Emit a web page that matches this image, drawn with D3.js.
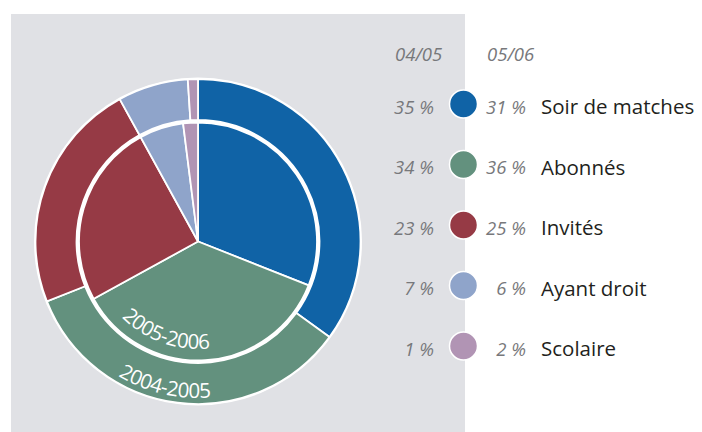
<!DOCTYPE html>
<html>
<head>
<meta charset="utf-8">
<script src="https://cdn.jsdelivr.net/npm/d3@7"></script>
<style>
  html, body { margin: 0; padding: 0; background: #ffffff; }
  svg { display: block; }
</style>
</head>
<body>
<svg id="chart" width="702" height="432"></svg>
<script>
// ---- data ----
const categories = ["Soir de matches", "Abonnés", "Invités", "Ayant droit", "Scolaire"];
const values0405 = [35, 34, 23, 7, 1];   // outer ring (2004-2005)
const values0506 = [31, 36, 25, 6, 2];   // inner pie (2005-2006)
const seasonHeaders = ["04/05", "05/06"];
const ringLabels = ["2005-2006", "2004-2005"];
const colors = ["#1063a6", "#63917e", "#963a45", "#8fa4ca", "#b194b4"];

// ---- layout ----
const W = 702, H = 432;
const cx = 198, cy = 241.5;
const rInner = 119, rRingIn = 121.5, rOuter = 162.5;

const svg = d3.select("#chart");

// gray panel
svg.append("rect").attr("x", 11).attr("y", 14).attr("width", 454).attr("height", H - 14)
  .attr("fill", "#e0e1e5");

const g = svg.append("g").attr("transform", `translate(${cx},${cy})`);

// white base disk (gives white outline & gap ring)
g.append("circle").attr("r", rOuter + 1.5).attr("fill", "#ffffff");

const pie = d3.pie().sort(null).value(d => d);
const color = d3.scaleOrdinal().domain(categories).range(colors);

const outerArc = d3.arc().innerRadius(rRingIn).outerRadius(rOuter);
const innerArc = d3.arc().innerRadius(0).outerRadius(rInner);

g.selectAll("path.outer").data(pie(values0405)).join("path")
  .attr("class", "outer")
  .attr("d", outerArc)
  .attr("fill", (d, i) => color(categories[i]))
  .attr("stroke", "#ffffff").attr("stroke-width", 1.8).attr("stroke-linejoin", "miter");

g.selectAll("path.inner").data(pie(values0506)).join("path")
  .attr("class", "inner")
  .attr("d", innerArc)
  .attr("fill", (d, i) => color(categories[i]))
  .attr("stroke", "#ffffff").attr("stroke-width", 1.8).attr("stroke-linejoin", "miter");

// curved ring labels
function arcPath(r, a1, a2) {
  const p = a => [r * Math.sin(a * Math.PI / 180), -r * Math.cos(a * Math.PI / 180)];
  const s = p(a1), e = p(a2);
  return `M${s[0]},${s[1]} A${r},${r} 0 0 0 ${e[0]},${e[1]}`;
}
const labelSpecs = [
  { text: ringLabels[0], r: 107.5, mid: 199.5 },
  { text: ringLabels[1], r: 156.5, mid: 193 }
];
const defs = svg.append("defs");
labelSpecs.forEach((s, i) => {
  defs.append("path").attr("id", "lp" + i)
    .attr("d", arcPath(s.r, s.mid + 60, s.mid - 60));
  g.append("text")
    .attr("font-family", "'Open Sans', sans-serif")
    .attr("font-size", 20.5)
    .attr("letter-spacing", -0.4)
    .attr("fill", "#ffffff")
    .append("textPath")
    .attr("href", "#lp" + i)
    .attr("startOffset", "50%")
    .attr("text-anchor", "middle")
    .text(s.text);
});

// ---- legend ----
const y = d3.scalePoint().domain(categories).range([104, 346]);

svg.append("text").attr("x", 395).attr("y", 61)
  .attr("font-family", "'Open Sans', sans-serif").attr("font-style", "italic")
  .attr("font-size", 18.5).attr("fill", "#77787b").text(seasonHeaders[0]);
svg.append("text").attr("x", 487).attr("y", 61)
  .attr("font-family", "'Open Sans', sans-serif").attr("font-style", "italic")
  .attr("font-size", 18.5).attr("fill", "#77787b").text(seasonHeaders[1]);

const rows = svg.selectAll("g.row").data(categories).join("g")
  .attr("class", "row")
  .attr("transform", d => `translate(0,${y(d)})`);

rows.append("circle").attr("cx", 463.5).attr("cy", 0).attr("r", 14)
  .attr("fill", d => color(d)).attr("stroke", "#ffffff").attr("stroke-width", 1.5);

rows.append("text").attr("x", 434).attr("y", 9.5).attr("text-anchor", "end")
  .attr("font-family", "'Open Sans', sans-serif").attr("font-style", "italic")
  .attr("font-size", 18.5).attr("fill", "#77787b")
  .text((d, i) => values0405[i] + " %");

rows.append("text").attr("x", 526).attr("y", 9.5).attr("text-anchor", "end")
  .attr("font-family", "'Open Sans', sans-serif").attr("font-style", "italic")
  .attr("font-size", 18.5).attr("fill", "#77787b")
  .text((d, i) => values0506[i] + " %");

rows.append("text").attr("x", 541).attr("y", 10)
  .attr("font-family", "'Open Sans', sans-serif")
  .attr("font-size", 20.5).attr("fill", "#231f20")
  .text(d => d);
</script>
</body>
</html>
